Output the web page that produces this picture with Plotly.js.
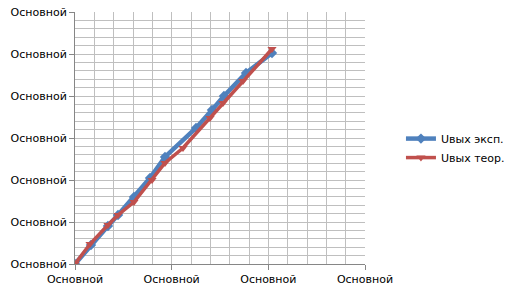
<!DOCTYPE html>
<html>
<head>
<meta charset="utf-8">
<script src="https://cdn.plot.ly/plotly-3.0.1.min.js"></script>
<style>html,body{margin:0;padding:0;background:#fff;}#chart{width:513px;height:292px;}</style>
</head>
<body>
<div id="chart"></div>
<script>
// Data (axis units: x 0..3, y 0..6)
const xExp = [0, 0.165, 0.341, 0.445, 0.610, 0.776, 0.931, 1.252, 1.417, 1.541, 1.769, 2.038];
const yExp = [0, 0.452, 0.905, 1.167, 1.595, 2.048, 2.548, 3.238, 3.667, 4.0, 4.548, 5.024];
const xTeor = [0, 0.155, 0.341, 0.445, 0.610, 0.797, 0.931, 1.117, 1.397, 1.531, 1.738, 2.038];
const yTeor = [0, 0.476, 0.929, 1.167, 1.476, 2.0, 2.405, 2.762, 3.476, 3.833, 4.357, 5.119];
const seriesNames = ["Uвых эксп.", "Uвых теор."];
const xTickVals = [0, 1, 2, 3];
const yTickVals = [0, 1, 2, 3, 4, 5, 6];
const tickLabel = "Основной";

const font = {family: "DejaVu Sans, Verdana, sans-serif", size: 11, color: "#000"};

const traces = [
  {x: xExp, y: yExp, name: seriesNames[0], type: "scatter", mode: "lines+markers",
   line: {color: "#4F81BD", width: 4.5}, marker: {symbol: "diamond", size: 8, color: "#4F81BD"}},
  {x: xTeor, y: yTeor, name: seriesNames[1], type: "scatter", mode: "lines+markers",
   line: {color: "#C0504D", width: 3.5}, marker: {symbol: "triangle-down", size: 8, color: "#C0504D"}}
];

const axisCommon = {
  showgrid: false, zeroline: false, showline: true, linecolor: "#868686", linewidth: 1,
  ticks: "outside", ticklen: 5, tickcolor: "#868686", tickfont: font, automargin: false,
  minor: {dtick: 0.2, showgrid: true, gridcolor: "#BFBFBF", gridwidth: 1, ticks: ""}
};

const layout = {
  width: 513, height: 292,
  margin: {l: 75, r: 148, t: 12, b: 28, autoexpand: false},
  paper_bgcolor: "#fff", plot_bgcolor: "#fff",
  font: font,
  showlegend: true,
  legend: {x: 1.124, y: 0.46, xanchor: "left", yanchor: "middle", font: font, bgcolor: "rgba(0,0,0,0)", tracegroupgap: 0},
  xaxis: Object.assign({}, axisCommon, {range: [0, 3], tickvals: xTickVals, ticktext: xTickVals.map(() => tickLabel)}),
  yaxis: Object.assign({}, axisCommon, {range: [0, 6], tickvals: yTickVals, ticktext: yTickVals.map(() => tickLabel)})
};

Plotly.newPlot("chart", traces, layout, {displayModeBar: false, staticPlot: true});
</script>
</body>
</html>
